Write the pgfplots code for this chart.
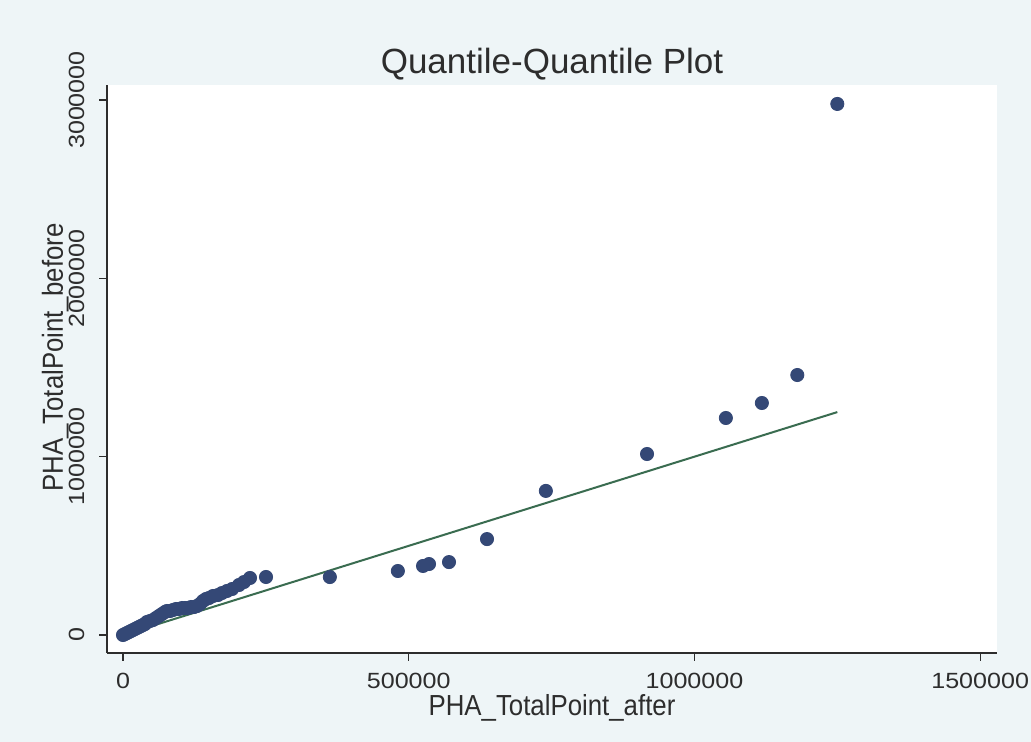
\documentclass[border=0pt]{standalone}
\usepackage{pgfplots}
\pgfplotsset{compat=1.18}
\usepackage{fontspec}
\setmainfont{Liberation Sans}
\newfontfamily\tickfont[FakeStretch=1.14]{Liberation Sans}
\newfontfamily\labelfont[FakeStretch=0.89]{Liberation Sans}
\definecolor{pagebg}{RGB}{238,245,247}
\definecolor{dotnavy}{RGB}{52,72,118}
\definecolor{refgreen}{RGB}{58,108,80}
\definecolor{axisgray}{RGB}{45,45,45}
\begin{document}
\begin{tikzpicture}
\useasboundingbox (0,0) rectangle (515.5pt,371pt);
\fill[pagebg] (0,0) rectangle (515.5pt,371pt);
\begin{axis}[
  at={(53.5pt,44.5pt)}, anchor=south west,
  width=445pt, height=284pt, scale only axis,
  xmin=-28000, xmax=1529500, ymin=-100900, ymax=3084400,
  axis x line*=bottom, axis y line*=left,
  axis line style={axisgray, line width=0.6pt, -},
  axis background/.style={fill=white},
  xtick={0,500000,1000000,1500000},
  ytick={0,1000000,2000000,3000000},
  scaled ticks=false,
  tick align=outside, major tick length=4pt,
  tick style={axisgray, line width=0.6pt},
  /pgf/number format/.cd, fixed, precision=0, 1000 sep={}, assume math mode=true,
  /pgfplots/.cd,
  ticklabel style={font=\tickfont\fontsize{11}{13}\selectfont, text=axisgray},
  xticklabel style={anchor=base, yshift=-14pt},
  % rotated frame: positive yshift moves the labels to the left
  yticklabel style={rotate=90, anchor=base, yshift=7.5pt},
  title={Quantile-Quantile Plot},
  title style={font=\fontsize{17.5}{21}\selectfont, text=axisgray, at={(0.5,1)}, anchor=base, yshift=-0.5pt},
  xlabel={PHA\_TotalPoint\_after},
  xlabel style={font=\labelfont\fontsize{14.5}{17}\selectfont, text=axisgray, at={(0.5,0)}, anchor=base, yshift=-31.5pt},
  ylabel={PHA\_TotalPoint\_before},
  ylabel style={font=\labelfont\fontsize{14.5}{17}\selectfont, text=axisgray,
    at={([xshift=-22pt]axis description cs:0,0.52)}, anchor=base},
  clip=false,
]
% sorted quantiles: after (x) against before (y)
\addplot[only marks, mark=*, mark size=3.3pt, draw=dotnavy, fill=dotnavy] coordinates {
  (0,0) (3500,5600) (7000,11200) (10500,16800) (14000,22400) (17500,28000)
  (21000,33600) (24500,39300) (28000,44900) (31500,50500) (35000,56100)
  (38500,61700) (42000,72900) (47250,78500) (52500,84100) (57750,95300)
  (63000,106600) (68250,117800) (73500,129000) (77000,134600) (82250,134600)
  (87500,140200) (92750,145800) (98000,145800) (103250,151400) (108500,151400)
  (113750,151400) (119000,157000) (124250,157000) (129500,162600) (134750,173800)
  (140000,190700) (145250,201900) (150500,207500) (157500,218700) (166250,224300)
  (173250,235500) (182000,246800) (191000,258000) (203000,280400) (211750,297200)
  (222250,319700) (250250,325300)
  (362000,325000) (481000,359000) (525000,387000) (535500,398000) (570500,409000)
  (637000,538000) (740000,808000) (917000,1015000) (1055000,1217000)
  (1118000,1301000) (1180000,1458000) (1250000,2978000)
};
% reference line y = x
\addplot[refgreen, line width=1pt] coordinates {(0,0) (1250000,1250000)};
\end{axis}
\end{tikzpicture}
\end{document}
